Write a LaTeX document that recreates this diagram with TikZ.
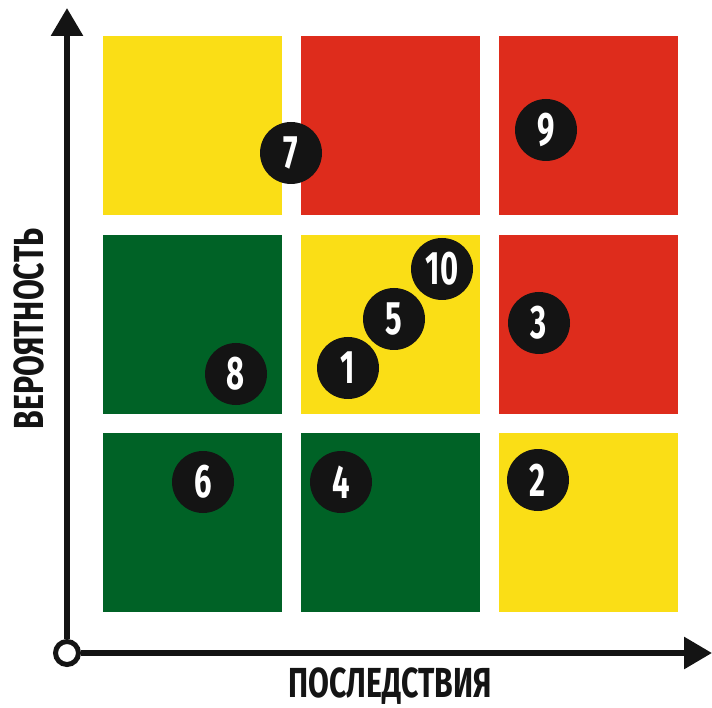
\documentclass[tikz,border=0pt]{standalone}
\usepackage{fontspec}
\newfontfamily\condfont{Fira Sans}[FakeStretch=0.72]
\newfontfamily\digitfont{Fira Sans}[FakeStretch=0.66]
\usetikzlibrary{arrows.meta,positioning}
\definecolor{riskyellow}{RGB}{250,222,22}
\definecolor{riskred}{RGB}{222,44,28}
\definecolor{riskgreen}{RGB}{0,98,38}
\definecolor{inkblack}{RGB}{20,20,20}
\tikzset{
  cellbox/.style={rectangle,draw=none,minimum width=179pt,minimum height=179pt,
    anchor=north west,inner sep=0pt},
  riskdot/.style={circle,fill=inkblack,minimum size=62pt,inner sep=0pt,
    text=white,font=\digitfont\bfseries\fontsize{47}{47}\selectfont},
  axisline/.style={line width=6pt,draw=inkblack},
  axisarrow/.style={axisline,-{Triangle[length=28pt,width=31pt]}},
  axislabel/.style={text=inkblack,inner sep=0pt,
    font=\condfont\bfseries\fontsize{42}{42}\selectfont}
}
\begin{document}
\begin{tikzpicture}[x=1pt,y=-1pt]
  \useasboundingbox (0,0) rectangle (712,708);

  % risk matrix cells
  \foreach \c/\r/\col in {0/0/riskyellow,1/0/riskred,2/0/riskred,
                          0/1/riskgreen,1/1/riskyellow,2/1/riskred,
                          0/2/riskgreen,1/2/riskgreen,2/2/riskyellow}
    \node[cellbox,fill=\col] (cell-\c-\r) at (103+198*\c,36+198.5*\r) {};

  % axes
  \node[circle,draw=inkblack,line width=5pt,fill=white,minimum size=23pt,
    inner sep=0pt] (origin) at (67,653) {};
  \coordinate (ytip) at (67,8);
  \coordinate (xtip) at (712,653);
  \draw[axisarrow] (origin.north) -- (ytip);
  \draw[axisarrow] (origin.east) -- (xtip);

  % axis labels
  \node[axislabel] (xlabel) at (390,686) {ПОСЛЕДСТВИЯ};
  \node[axislabel,rotate=90] (ylabel) at (29,329) {ВЕРОЯТНОСТЬ};

  % risks
  \foreach \n/\x/\y in {7/291/153,9/546/130,10/442/269,5/394/319,1/348/368,
                        8/236/374,3/539/323,6/203/482,4/341/482,2/538/480}
    \node[riskdot] (risk\n) at (\x,\y) {\n};
\end{tikzpicture}
\end{document}
